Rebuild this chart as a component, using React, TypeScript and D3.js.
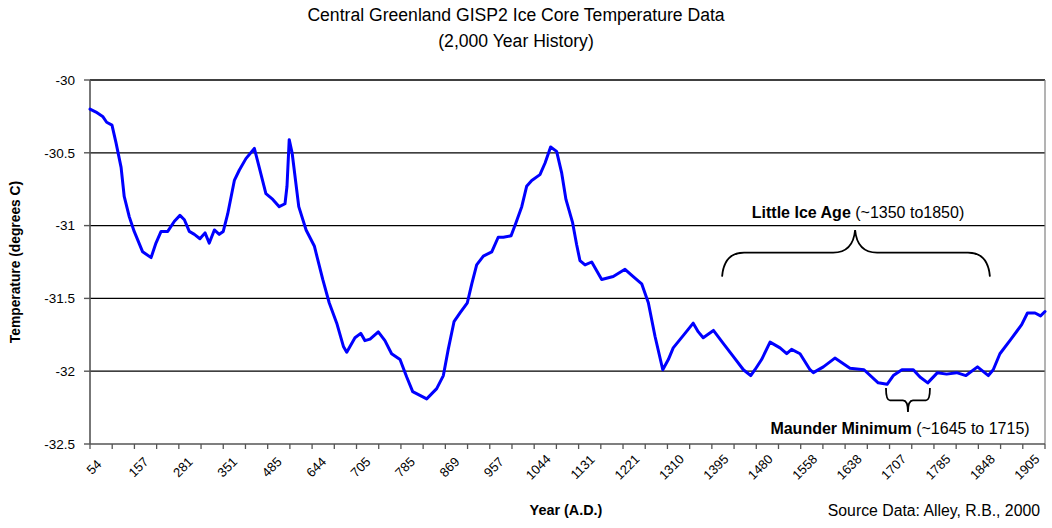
import React from "react";
import * as d3 from "d3";

// ---- Data ----
const yearLabels = ["54","157","281","351","485","644","705","785","869","957","1044","1131","1221","1310","1395","1480","1558","1638","1707","1785","1848","1905"];
const tickIntervals = 43; // category tick marks along the x axis (labels every 2nd tick)
const yTicks = [-30, -30.5, -31, -31.5, -32, -32.5];

// position along the category axis (in tick units) and temperature (deg C)
const seriesPos = [0,0.27,0.57,0.75,0.99,1.17,1.40,1.54,1.77,1.99,2.37,2.75,2.97,3.20,3.50,3.80,4.05,4.25,4.47,4.70,4.95,5.18,5.37,5.60,5.82,6.00,6.20,6.50,6.72,7.02,7.40,7.62,7.92,8.23,8.52,8.78,8.87,8.97,9.10,9.40,9.73,10.10,10.48,10.77,11.11,11.41,11.56,11.93,12.19,12.38,12.61,12.98,13.28,13.58,13.96,14.26,14.53,15.16,15.61,15.91,16.13,16.39,16.66,16.99,17.19,17.41,17.71,18.09,18.38,18.61,18.96,19.18,19.44,19.66,19.89,20.26,20.49,20.74,21.01,21.24,21.43,21.73,21.91,22.06,22.29,22.59,23.04,23.56,24.09,24.46,24.84,25.14,25.44,25.79,26.04,26.26,26.79,27.16,27.39,27.61,28.07,28.52,28.97,29.42,29.75,29.94,30.24,30.62,31.07,31.37,31.59,31.97,32.42,32.57,33.02,33.54,34.22,34.85,35.49,35.89,36.17,36.56,37.07,37.37,37.72,38.16,38.57,39.02,39.44,39.96,40.45,40.67,40.97,41.47,41.95,42.21,42.55,42.80,43.00];
const seriesTemp = [-30.20,-30.22,-30.25,-30.29,-30.31,-30.43,-30.60,-30.80,-30.94,-31.04,-31.18,-31.22,-31.12,-31.04,-31.04,-30.97,-30.93,-30.96,-31.04,-31.06,-31.09,-31.05,-31.12,-31.03,-31.06,-31.04,-30.92,-30.69,-30.62,-30.54,-30.47,-30.60,-30.78,-30.82,-30.87,-30.85,-30.73,-30.41,-30.50,-30.87,-31.03,-31.14,-31.37,-31.53,-31.67,-31.83,-31.87,-31.77,-31.74,-31.79,-31.78,-31.73,-31.79,-31.88,-31.92,-32.04,-32.14,-32.19,-32.12,-32.03,-31.85,-31.66,-31.60,-31.53,-31.40,-31.27,-31.21,-31.18,-31.08,-31.08,-31.07,-30.98,-30.87,-30.73,-30.69,-30.65,-30.57,-30.46,-30.49,-30.64,-30.82,-30.98,-31.13,-31.24,-31.27,-31.25,-31.37,-31.35,-31.30,-31.35,-31.40,-31.53,-31.76,-31.99,-31.92,-31.84,-31.74,-31.67,-31.73,-31.77,-31.72,-31.81,-31.90,-31.99,-32.03,-31.99,-31.92,-31.80,-31.84,-31.88,-31.85,-31.88,-31.99,-32.01,-31.97,-31.91,-31.98,-31.99,-32.08,-32.09,-32.03,-31.99,-31.99,-32.04,-32.08,-32.01,-32.02,-32.01,-32.03,-31.97,-32.03,-31.99,-31.88,-31.78,-31.68,-31.60,-31.60,-31.62,-31.59];

// Annotation braces (in axis units): [left, middle, right] positions and temps [ends, bar, point]
const liaBracePos = [28.46, 34.45, 40.52];
const liaBraceTemp = [-31.35, -31.185, -31.03];
const mmBracePos = [35.84, 36.83, 37.82];
const mmBraceTemp = [-32.115, -32.2, -32.28];

const W = 1052, H = 528;
const FONT = "Arial, 'Liberation Sans', Helvetica, sans-serif";

export default function App() {
  const x = d3.scaleLinear().domain([0, tickIntervals]).range([90, 1045]);
  const y = d3.scaleLinear().domain([-32.5, -30]).range([444, 80]);
  const pts: [number, number][] = seriesPos.map((p, i) => [p, seriesTemp[i]]);
  const line = d3.line<[number, number]>().x(d => x(d[0])).y(d => y(d[1]));

  // Little Ice Age brace (point up)
  const lx0 = x(liaBracePos[0]), lxm = x(liaBracePos[1]), lx1 = x(liaBracePos[2]);
  const lyE = y(liaBraceTemp[0]), lyB = y(liaBraceTemp[1]), lyP = y(liaBraceTemp[2]);
  const liaPath = d3.path();
  liaPath.moveTo(lx0, lyE);
  liaPath.quadraticCurveTo(lx0 + 2, lyB, lx0 + 22, lyB);
  liaPath.lineTo(lxm - 22, lyB);
  liaPath.quadraticCurveTo(lxm - 2, lyB, lxm, lyP);
  liaPath.quadraticCurveTo(lxm + 2, lyB, lxm + 22, lyB);
  liaPath.lineTo(lx1 - 22, lyB);
  liaPath.quadraticCurveTo(lx1 - 2, lyB, lx1, lyE);

  // Maunder brace (point down)
  const mx0 = x(mmBracePos[0]), mxm = x(mmBracePos[1]), mx1 = x(mmBracePos[2]);
  const myE = y(mmBraceTemp[0]), myB = y(mmBraceTemp[1]), myP = y(mmBraceTemp[2]);
  const mmPath = d3.path();
  mmPath.moveTo(mx0, myE);
  mmPath.quadraticCurveTo(mx0, myB, mx0 + 4, myB);
  mmPath.lineTo(mxm - 5, myB);
  mmPath.quadraticCurveTo(mxm, myB, mxm, myP);
  mmPath.quadraticCurveTo(mxm, myB, mxm + 5, myB);
  mmPath.lineTo(mx1 - 4, myB);
  mmPath.quadraticCurveTo(mx1, myB, mx1, myE);

  const allTicks = d3.range(0, tickIntervals + 1);

  return (
    <svg width={W} height={H} style={{ position: "absolute", left: 0, top: 0, background: "#fff" }} fontFamily={FONT}>
      <rect x={0} y={0} width={W} height={H} fill="#fff" />
      {/* Title */}
      <text x={516} y={21} textAnchor="middle" fontSize={17.6} fill="#000">Central Greenland GISP2 Ice Core Temperature Data</text>
      <text x={516} y={47} textAnchor="middle" fontSize={17.6} fill="#000">(2,000 Year History)</text>

      {/* gridlines */}
      {yTicks.slice(0, -1).map(t => (
        <line key={t} x1={x(0)} x2={x(tickIntervals)} y1={y(t)} y2={y(t)} stroke="#000" strokeWidth={1.3} />
      ))}
      {/* right border */}
      <line x1={x(tickIntervals)} x2={x(tickIntervals)} y1={y(-30)} y2={y(-32.5)} stroke="#808080" strokeWidth={1.2} />

      {/* y axis */}
      <line x1={x(0)} x2={x(0)} y1={y(-30)} y2={y(-32.5)} stroke="#555" strokeWidth={1.6} />
      {yTicks.map(t => (
        <g key={t}>
          <line x1={x(0) - 6} x2={x(0)} y1={y(t)} y2={y(t)} stroke="#555" strokeWidth={1.4} />
          <text x={75} y={y(t)} dy="0.35em" textAnchor="end" fontSize={13.5} fill="#000">{String(t)}</text>
        </g>
      ))}
      <text transform={`translate(20,${(y(-30) + y(-32.5)) / 2}) rotate(-90)`} textAnchor="middle" fontSize={13.8} fontWeight="bold" fill="#000">Temperature (degrees C)</text>

      {/* x axis */}
      <line x1={x(0)} x2={x(tickIntervals)} y1={y(-32.5)} y2={y(-32.5)} stroke="#555" strokeWidth={1.6} />
      {allTicks.map(i => (
        <line key={i} x1={x(i)} x2={x(i)} y1={y(-32.5)} y2={y(-32.5) + 5} stroke="#555" strokeWidth={1.3} />
      ))}
      {yearLabels.map((lab, k) => (
        <text key={lab} transform={`translate(${x(k * 2) + 4},${467}) rotate(-45)`} textAnchor="middle" dy="0.35em" fontSize={13} fill="#000">{lab}</text>
      ))}
      <text x={566} y={515} textAnchor="middle" fontSize={14.4} fontWeight="bold" fill="#000">Year (A.D.)</text>
      <text x={1040} y={516} textAnchor="end" fontSize={15.8} fill="#000">Source Data: Alley, R.B., 2000</text>

      {/* data line */}
      <path d={line(pts) || ""} fill="none" stroke="#0000ff" strokeWidth={3} strokeLinejoin="round" strokeLinecap="round" />

      {/* annotations */}
      <path d={liaPath.toString()} fill="none" stroke="#000" strokeWidth={1.8} />
      <text x={858} y={218} textAnchor="middle" fontSize={16} fill="#000">
        <tspan fontWeight="bold">Little Ice Age</tspan><tspan> (~1350 to1850)</tspan>
      </text>
      <path d={mmPath.toString()} fill="none" stroke="#000" strokeWidth={1.8} />
      <text x={900} y={434} textAnchor="middle" fontSize={16} fill="#000">
        <tspan fontWeight="bold">Maunder Minimum</tspan><tspan> (~1645 to 1715)</tspan>
      </text>
    </svg>
  );
}
